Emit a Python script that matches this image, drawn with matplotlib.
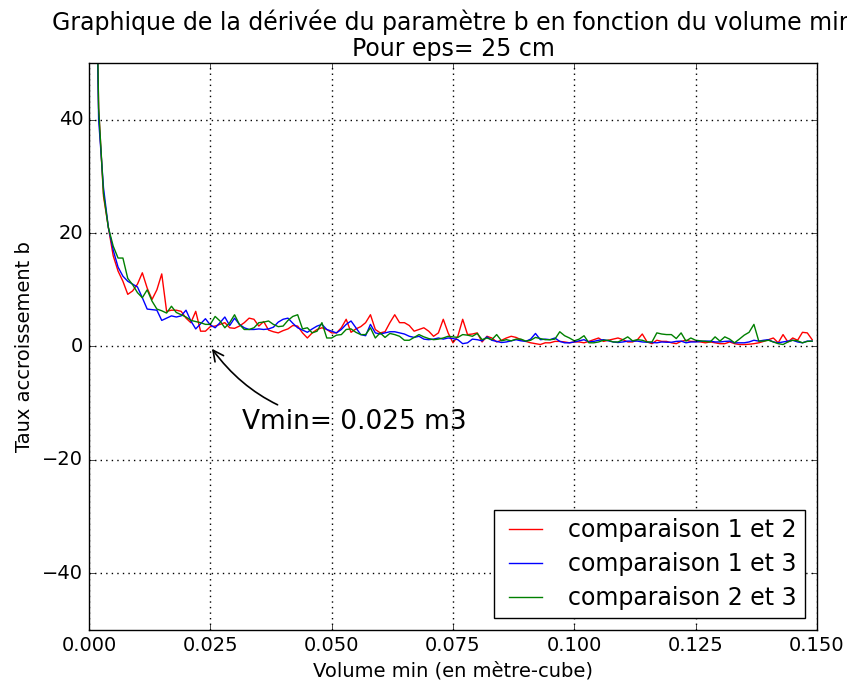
import numpy as np
import matplotlib
matplotlib.use("Agg")
import matplotlib.pyplot as plt

plt.style.use("classic")
plt.rcParams["font.family"] = ["DejaVu Sans"]

# x values: volume min (m3), regular step of 0.001
volume_min = np.round(np.arange(1, 150) * 0.001, 3)

comp_1_2 = [
    90, 42, 26.5, 21, 16, 13.3, 11.5, 9.2, 9.8, 11.0,
    13.0, 10.3, 8.3, 10.0, 12.8, 6.2, 6.4, 6.4, 6.2, 5.0,
    4.2, 6.2, 2.7, 2.7, 3.5, 3.6, 3.9, 4.2, 3.3, 3.2,
    3.6, 4.2, 5.0, 4.8, 3.6, 4.4, 2.9, 2.6, 2.4, 2.8,
    3.1, 3.7, 3.6, 2.4, 1.5, 2.4, 3.0, 3.3, 3.0, 2.4,
    2.4, 3.3, 4.8, 2.5, 3.1, 3.5, 4.2, 5.6, 3.0, 2.4,
    2.6, 4.2, 5.6, 4.2, 4.2, 3.7, 2.7, 3.0, 3.3, 2.7,
    1.8, 2.4, 4.8, 2.4, 0.65, 1.8, 4.8, 2.1, 2.2, 2.4,
    0.8, 1.8, 1.5, 0.8, 1.1, 1.5, 1.8, 1.6, 1.2, 0.9,
    0.65, 0.5, 0.35, 0.65, 0.65, 0.9, 0.9, 0.8, 0.65, 0.8,
    0.8, 0.65, 0.9, 1.2, 1.5, 0.9, 1.1, 1.3, 1.5, 1.2,
    0.8, 0.8, 1.2, 2.2, 0.8, 0.5, 1.1, 0.9, 0.9, 0.65,
    0.5, 0.9, 1.1, 0.9, 0.9, 0.8, 0.65, 0.8, 0.65, 0.5,
    0.5, 0.8, 0.5, 0.35, 0.35, 0.4, 0.5, 0.65, 0.9, 1.2,
    1.5, 0.65, 2.1, 0.8, 1.5, 1.1, 2.5, 2.4, 1.2,
]

comp_1_3 = [
    90, 40, 28, 21, 17, 14, 12.4, 11.5, 11.0, 10.5,
    8.6, 6.6, 6.5, 6.4, 4.6, 5.0, 5.4, 5.2, 5.4, 6.4,
    4.5, 3.1, 4.0, 4.9, 3.8, 3.3, 4.2, 5.2, 3.7, 5.0,
    3.9, 3.3, 3.0, 3.0, 3.1, 3.0, 3.1, 3.4, 4.3, 4.8,
    5.0, 4.1, 3.3, 2.9, 2.5, 3.1, 3.6, 3.9, 3.0, 2.7,
    2.4, 3.0, 3.9, 4.5, 3.3, 2.1, 1.9, 3.9, 2.4, 2.2,
    2.4, 2.6, 2.6, 2.4, 2.2, 1.8, 1.6, 1.8, 1.3, 1.2,
    1.3, 1.5, 1.3, 1.5, 1.4, 1.2, 0.5, 0.65, 1.3, 1.2,
    1.0, 1.7, 1.1, 0.9, 0.7, 0.8, 1.0, 1.2, 1.0, 0.9,
    1.3, 2.3, 1.2, 1.3, 1.2, 1.5, 0.9, 0.65, 0.65, 0.8,
    1.0, 1.2, 0.8, 0.9, 1.1, 1.2, 1.0, 0.8, 0.7, 0.8,
    0.95, 0.95, 0.95, 0.8, 0.75, 0.7, 0.65, 0.8, 0.75, 0.75,
    0.9, 0.95, 0.65, 0.8, 0.8, 0.9, 0.95, 0.95, 0.8, 0.8,
    0.9, 0.95, 0.65, 0.65, 0.65, 0.8, 1.1, 0.95, 1.1, 1.2,
    0.8, 0.65, 0.8, 0.95, 1.1, 0.8, 0.65, 0.95, 0.95,
]

comp_2_3 = [
    95, 42, 27, 21, 17.7, 15.6, 15.6, 12.0, 10.9, 9.5,
    8.6, 10.0, 8.0, 6.6, 6.3, 5.9, 7.1, 6.0, 5.6, 5.2,
    4.6, 4.4, 4.2, 3.9, 3.9, 5.3, 4.5, 3.3, 4.2, 5.6,
    3.9, 3.0, 3.0, 3.3, 4.2, 4.3, 4.5, 3.9, 3.5, 3.6,
    4.6, 5.3, 5.6, 3.1, 3.3, 2.4, 2.7, 4.2, 1.5, 1.5,
    2.0, 2.1, 3.0, 3.1, 2.5, 2.1, 2.1, 3.3, 1.5, 2.4,
    1.6, 2.3, 2.1, 1.8, 1.1, 1.1, 1.6, 2.1, 1.7, 1.4,
    1.2, 1.3, 1.5, 1.8, 1.7, 1.6, 2.1, 2.0, 1.8, 2.3,
    1.2, 1.5, 1.2, 2.1, 1.0, 1.2, 1.0, 1.3, 1.3, 0.95,
    1.1, 1.6, 1.4, 1.2, 1.2, 1.3, 2.6, 1.9, 1.5, 1.0,
    1.3, 1.9, 0.65, 0.65, 0.8, 1.1, 1.1, 0.8, 0.8, 1.2,
    1.7, 1.0, 1.2, 1.1, 0.8, 0.8, 2.4, 2.2, 2.1, 2.1,
    1.4, 2.4, 0.95, 1.5, 1.1, 1.0, 0.9, 0.8, 1.7, 0.95,
    1.7, 1.3, 0.65, 1.3, 2.0, 2.5, 3.9, 0.95, 0.95, 1.1,
    0.8, 0.5, 0.35, 0.8, 1.1, 1.0, 0.65, 0.9, 0.95,
]

labels = ["comparaison 1 et 2", "comparaison 1 et 3", "comparaison 2 et 3"]
colors = ["red", "blue", "green"]
x_ticks = [0.000, 0.025, 0.050, 0.075, 0.100, 0.125, 0.150]
y_ticks = [-40, -20, 0, 20, 40]

fig = plt.figure(figsize=(8.47, 6.81), dpi=100, facecolor="white")
ax = fig.add_axes([0.105, 0.0749, 0.8596, 0.8326])

for series, lab, col in zip([comp_1_2, comp_1_3, comp_2_3], labels, colors):
    ax.plot(volume_min, series, color=col, linewidth=1.0, label=lab)

ax.set_xlim(0, 0.15)
ax.set_ylim(-50, 50)
ax.set_xticks(x_ticks)
ax.set_xticklabels([f"{t:.3f}" for t in x_ticks])
ax.set_yticks(y_ticks)
ax.tick_params(labelsize=14)
ax.grid(True, color="black", linestyle=":", linewidth=1.0)

ax.set_xlabel("Volume min (en mètre-cube)", fontsize=14)
ax.set_ylabel("Taux accroissement b", fontsize=14, labelpad=6)
ax.set_title("Graphique de la dérivée du paramètre b en fonction du volume min\nPour eps= 25 cm",
             fontsize=17, linespacing=1.1)

ax.annotate("Vmin= 0.025 m3", xy=(0.025, 0), xytext=(0.0315, -14.6),
            fontsize=19,
            arrowprops=dict(arrowstyle="->", color="black", linewidth=1.2,
                            connectionstyle="arc3,rad=-0.25"))

leg = ax.legend(loc="lower right", fontsize=17, frameon=True, fancybox=False,
                handletextpad=0.8, labelspacing=0.42, borderpad=0.35,
                borderaxespad=0.5)
leg.get_frame().set_edgecolor("black")

fig.savefig("out.png", dpi=100, facecolor="white")
